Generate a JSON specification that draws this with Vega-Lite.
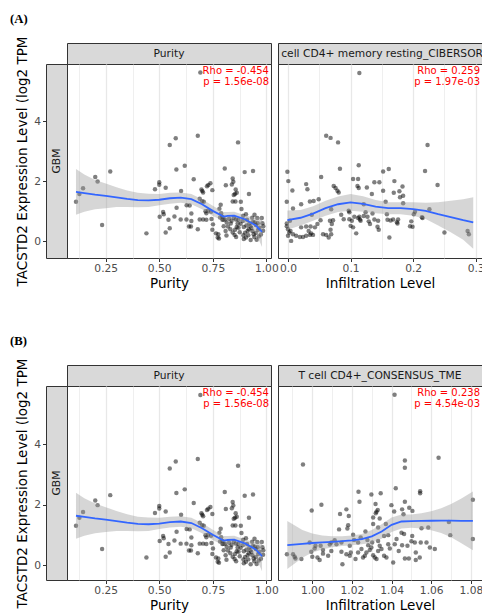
{
"$schema": "https://vega.github.io/schema/vega-lite/v6.json",
"padding": {"left": 10, "top": 12, "right": 0, "bottom": 0},
"config": {
  "font": "DejaVu Sans",
  "view": {"stroke": "#333333", "strokeWidth": 1},
  "axis": {"labelFont": "DejaVu Sans", "labelFontSize": 10.7, "labelColor": "#4d4d4d", "titleFont": "DejaVu Sans", "titleFontSize": 13.5, "titleColor": "#000000", "titleFontWeight": "normal", "tickColor": "#333333", "tickSize": 3.5, "tickWidth": 1, "domain": false, "gridColor": "#e8e8e8", "labelFlush": false, "labelOverlap": false, "labelBound": false},
  "title": {"font": "Liberation Serif", "fontWeight": "bold", "fontSize": 12.7, "color": "#000000"}
},
"datasets": {
  "pur": [
{"x":0.111,"y":1.31},{"x":0.127,"y":1.57},{"x":0.144,"y":1.76},{"x":0.201,"y":2.14},{"x":0.212,"y":1.99},{"x":0.233,"y":0.54},{"x":0.271,"y":2.32},{"x":0.44,"y":0.26},
{"x":0.48,"y":1.73},{"x":0.5,"y":1.96},{"x":0.5,"y":1.88},{"x":0.53,"y":1.78},{"x":0.549,"y":3.2},{"x":0.577,"y":3.43},{"x":0.58,"y":2.39},{"x":0.619,"y":2.51},{"x":0.68,"y":3.51},{"x":0.692,"y":5.62},{"x":0.868,"y":3.29},{"x":0.602,"y":1.67},{"x":0.661,"y":2.06},
{"x":0.518,"y":0.97},{"x":0.521,"y":0.9},{"x":0.502,"y":0.81},{"x":0.571,"y":0.82},{"x":0.543,"y":0.71},{"x":0.6,"y":0.72},{"x":0.627,"y":0.72},{"x":0.65,"y":0.92},{"x":0.65,"y":0.67},{"x":0.549,"y":0.43},{"x":0.53,"y":0.29},{"x":0.639,"y":0.49},{"x":0.648,"y":0.49},{"x":0.68,"y":0.4},{"x":0.581,"y":1.11},{"x":0.628,"y":1.2},{"x":0.642,"y":1.19},
{"x":0.689,"y":1.41},{"x":0.7,"y":1.33},{"x":0.697,"y":1.72},{"x":0.701,"y":1.67},{"x":0.729,"y":1.87},{"x":0.739,"y":1.93},{"x":0.748,"y":1.7},{"x":0.723,"y":1.83},{"x":0.705,"y":1.62},{"x":0.689,"y":0.72},{"x":0.705,"y":0.72},{"x":0.72,"y":0.93},{"x":0.728,"y":1.01},{"x":0.716,"y":1.0},{"x":0.72,"y":0.71},{"x":0.751,"y":0.56},{"x":0.748,"y":0.38},{"x":0.765,"y":0.26},{"x":0.773,"y":0.12},{"x":0.742,"y":0.98},{"x":0.744,"y":0.74},{"x":0.708,"y":1.31},
{"x":0.781,"y":1.08},{"x":0.787,"y":1.21},{"x":0.789,"y":0.93},{"x":0.784,"y":0.79},{"x":0.795,"y":0.71},{"x":0.8,"y":0.72},{"x":0.801,"y":0.5},{"x":0.81,"y":0.34},{"x":0.821,"y":0.49},{"x":0.814,"y":0.19},{"x":0.832,"y":0.4},{"x":0.834,"y":0.59},{"x":0.843,"y":0.29},{"x":0.852,"y":0.21},{"x":0.854,"y":0.38},{"x":0.862,"y":0.47},{"x":0.866,"y":0.59},{"x":0.87,"y":0.71},{"x":0.806,"y":2.42},{"x":0.811,"y":1.86},{"x":0.839,"y":1.89},{"x":0.846,"y":1.98},{"x":0.843,"y":2.09},{"x":0.857,"y":1.72},{"x":0.862,"y":1.61},{"x":0.854,"y":1.57},{"x":0.848,"y":1.54},{"x":0.843,"y":1.32},{"x":0.856,"y":1.32},{"x":0.881,"y":1.31},{"x":0.776,"y":0.23},{"x":0.779,"y":0.09},{"x":0.807,"y":0.72},{"x":0.795,"y":0.81},{"x":0.815,"y":0.62},{"x":0.826,"y":0.75},{"x":0.838,"y":0.68},{"x":0.848,"y":0.78},{"x":0.858,"y":0.72},
{"x":0.876,"y":0.3},{"x":0.89,"y":0.67},{"x":0.895,"y":0.47},{"x":0.893,"y":0.2},{"x":0.884,"y":1.07},{"x":0.901,"y":0.28},{"x":0.907,"y":0.52},{"x":0.913,"y":0.34},{"x":0.916,"y":0.2},{"x":0.921,"y":0.59},{"x":0.927,"y":0.04},{"x":0.934,"y":0.78},{"x":0.938,"y":0.64},{"x":0.935,"y":0.34},{"x":0.944,"y":0.14},{"x":0.951,"y":0.27},{"x":0.958,"y":0.77},{"x":0.962,"y":0.38},{"x":0.965,"y":0.16},{"x":0.979,"y":0.77},{"x":0.982,"y":0.6},{"x":0.986,"y":0.5},{"x":0.951,"y":0.54},{"x":0.91,"y":0.71},{"x":0.926,"y":0.5},{"x":0.941,"y":0.23},{"x":0.918,"y":0.4},{"x":0.895,"y":0.07},{"x":0.859,"y":0.14},{"x":0.899,"y":2.3},{"x":0.938,"y":2.34},{"x":0.919,"y":1.57},{"x":0.87,"y":0.45},{"x":0.88,"y":0.58},{"x":0.905,"y":0.12},{"x":0.93,"y":0.44},{"x":0.946,"y":0.62},{"x":0.955,"y":0.05},{"x":0.968,"y":0.45},{"x":0.975,"y":0.22},{"x":0.985,"y":0.35},{"x":0.96,"y":0.6},{"x":0.892,"y":0.85},{"x":0.945,"y":0.88},{"x":0.905,"y":0.9}
  ],
  "mem": [
{"x":0.114,"y":5.6},{"x":0.061,"y":3.51},{"x":0.068,"y":3.44},{"x":0.08,"y":3.29},{"x":0.223,"y":3.2},{"x":-0.001,"y":2.31},{"x":0.0005,"y":2.0},{"x":0.007,"y":1.69},{"x":-0.002,"y":1.31},{"x":0.008,"y":1.09},{"x":-0.002,"y":0.5},{"x":0.0,"y":0.4},{"x":0.002,"y":0.29},{"x":-0.002,"y":0.59},{"x":0.003,"y":0.68},{"x":0.005,"y":0.01},{"x":0.008,"y":0.23},{"x":0.013,"y":0.18},{"x":0.019,"y":0.14},{"x":0.024,"y":0.14},{"x":0.029,"y":0.18},{"x":0.035,"y":0.21},{"x":0.037,"y":0.26},{"x":0.04,"y":0.21},{"x":0.033,"y":0.34},{"x":0.036,"y":0.49},{"x":0.043,"y":0.46},{"x":0.029,"y":0.49},{"x":0.021,"y":0.46},{"x":0.021,"y":1.23},{"x":0.029,"y":1.9},{"x":0.031,"y":1.73},{"x":0.035,"y":1.32},{"x":0.041,"y":1.34},{"x":0.049,"y":1.4},{"x":0.038,"y":0.88},{"x":0.053,"y":2.14},{"x":0.052,"y":0.7},{"x":0.056,"y":0.23},{"x":0.061,"y":0.21},{"x":0.065,"y":0.12},{"x":0.069,"y":0.23},{"x":0.068,"y":0.38},{"x":0.07,"y":0.57},{"x":0.072,"y":0.7},{"x":0.067,"y":0.68},{"x":0.047,"y":0.57},{"x":0.069,"y":1.06},{"x":0.073,"y":1.84},{"x":0.076,"y":1.77},{"x":0.079,"y":1.68},{"x":0.081,"y":1.62},{"x":0.083,"y":2.41},{"x":0.085,"y":0.88},{"x":0.089,"y":0.73},{"x":0.097,"y":1.01},{"x":0.098,"y":0.96},{"x":0.098,"y":0.73},{"x":0.1,"y":0.51},{"x":0.102,"y":0.68},{"x":0.104,"y":0.46},{"x":0.104,"y":2.07},{"x":0.109,"y":0.26},{"x":0.113,"y":2.53},{"x":0.112,"y":2.07},{"x":0.111,"y":1.84},{"x":0.113,"y":1.77},{"x":0.112,"y":0.77},{"x":0.114,"y":0.81},{"x":0.115,"y":0.72},{"x":0.116,"y":0.68},{"x":0.121,"y":1.23},{"x":0.124,"y":0.96},{"x":0.126,"y":1.79},{"x":0.127,"y":0.81},{"x":0.129,"y":0.66},{"x":0.131,"y":0.57},{"x":0.135,"y":0.92},{"x":0.134,"y":1.57},{"x":0.138,"y":1.96},{"x":0.146,"y":1.96},{"x":0.143,"y":0.48},{"x":0.145,"y":0.38},{"x":0.152,"y":2.32},{"x":0.161,"y":2.4},{"x":0.152,"y":1.68},{"x":0.156,"y":1.31},{"x":0.158,"y":0.9},{"x":0.159,"y":0.71},{"x":0.162,"y":0.12},{"x":0.164,"y":0.69},{"x":0.168,"y":0.72},{"x":0.169,"y":1.61},{"x":0.17,"y":2.0},{"x":0.174,"y":0.63},{"x":0.175,"y":0.59},{"x":0.178,"y":1.66},{"x":0.179,"y":1.46},{"x":0.183,"y":1.82},{"x":0.184,"y":1.51},{"x":0.184,"y":1.26},{"x":0.195,"y":0.5},{"x":0.197,"y":0.66},{"x":0.199,"y":0.48},{"x":0.201,"y":0.9},{"x":0.203,"y":0.98},{"x":0.214,"y":0.8},{"x":0.215,"y":0.77},{"x":0.226,"y":1.06},{"x":0.219,"y":2.34},{"x":0.239,"y":1.87},{"x":0.25,"y":0.29},{"x":0.287,"y":0.34},{"x":0.289,"y":0.23},{"x":0.121,"y":0.84},{"x":0.106,"y":0.81},{"x":0.138,"y":0.72},{"x":0.144,"y":0.68},{"x":0.176,"y":0.72},{"x":0.0,"y":0.18},{"x":0.004,"y":0.34}
  ],
  "cons": [
{"x":1.0415,"y":5.63},{"x":0.9953,"y":3.33},{"x":1.0467,"y":3.46},{"x":1.0467,"y":3.22},{"x":1.0637,"y":3.55},{"x":1.081,"y":2.17},{"x":1.081,"y":0.87},{"x":1.0421,"y":2.55},{"x":1.0544,"y":2.45},{"x":1.0544,"y":2.38},{"x":1.0233,"y":2.43},{"x":1.0298,"y":2.34},{"x":1.0345,"y":2.38},{"x":1.0238,"y":2.1},{"x":1.0046,"y":2.0},{"x":0.9997,"y":1.81},{"x":1.014,"y":1.7},{"x":1.0172,"y":1.85},{"x":1.0184,"y":1.63},{"x":1.0181,"y":1.33},{"x":1.0177,"y":1.22},{"x":1.0319,"y":2.03},{"x":1.0324,"y":1.77},{"x":1.033,"y":1.83},{"x":1.032,"y":1.72},{"x":1.0399,"y":1.99},{"x":1.0413,"y":1.78},{"x":1.0467,"y":2.1},{"x":1.0453,"y":1.85},{"x":1.046,"y":1.69},{"x":1.0489,"y":1.9},{"x":1.0505,"y":1.8},{"x":1.0307,"y":1.58},{"x":1.034,"y":1.55},{"x":1.0307,"y":1.37},{"x":1.0371,"y":1.37},{"x":1.0332,"y":1.25},{"x":1.0135,"y":1.19},{"x":1.0206,"y":1.01},{"x":1.0211,"y":0.84},{"x":1.0268,"y":1.12},{"x":1.0362,"y":0.97},{"x":1.0383,"y":1.0},{"x":1.045,"y":1.08},{"x":1.0463,"y":1.04},{"x":1.0504,"y":0.97},{"x":1.0551,"y":1.23},{"x":1.0585,"y":1.25},{"x":1.0689,"y":1.43},{"x":1.0696,"y":1.0},{"x":0.9987,"y":0.76},{"x":1.0012,"y":0.56},{"x":1.0016,"y":0.65},{"x":1.0042,"y":0.65},{"x":1.0054,"y":0.51},{"x":1.0088,"y":0.69},{"x":1.0096,"y":0.48},{"x":1.0113,"y":0.83},{"x":1.0122,"y":0.7},{"x":1.0147,"y":0.76},{"x":0.9911,"y":0.29},{"x":0.9915,"y":0.23},{"x":0.9872,"y":0.37},{"x":0.9945,"y":0.21},{"x":0.9995,"y":0.45},{"x":1.0,"y":0.29},{"x":1.0026,"y":0.26},{"x":1.0037,"y":0.18},{"x":1.0054,"y":0.39},{"x":1.0147,"y":0.45},{"x":1.0172,"y":0.37},{"x":1.0189,"y":0.32},{"x":1.0194,"y":0.43},{"x":1.0218,"y":0.21},{"x":1.0231,"y":0.43},{"x":1.0248,"y":0.54},{"x":1.0256,"y":0.26},{"x":1.0265,"y":0.32},{"x":1.0273,"y":0.43},{"x":1.0282,"y":0.67},{"x":1.029,"y":0.51},{"x":1.0298,"y":0.59},{"x":1.0307,"y":0.34},{"x":1.0315,"y":0.26},{"x":1.0324,"y":0.21},{"x":1.0332,"y":0.48},{"x":1.034,"y":0.65},{"x":1.0349,"y":0.54},{"x":1.0362,"y":0.32},{"x":1.0374,"y":0.26},{"x":1.0383,"y":0.7},{"x":1.0391,"y":0.56},{"x":1.0408,"y":0.1},{"x":1.0152,"y":0.04},{"x":1.0416,"y":0.7},{"x":1.0425,"y":0.87},{"x":1.0436,"y":0.48},{"x":1.0453,"y":0.67},{"x":1.0467,"y":0.23},{"x":1.048,"y":0.65},{"x":1.0487,"y":0.23},{"x":1.05,"y":0.8},{"x":1.0517,"y":0.76},{"x":1.0522,"y":0.43},{"x":1.0522,"y":0.18},{"x":1.0542,"y":0.26},{"x":1.0547,"y":0.76},{"x":1.0576,"y":0.76},{"x":1.0593,"y":0.59},{"x":1.0618,"y":0.54},{"x":1.0231,"y":0.76},{"x":1.0244,"y":0.92},{"x":1.0278,"y":0.84},{"x":1.0302,"y":0.76},{"x":1.0332,"y":0.81},{"x":1.0096,"y":0.76},{"x":1.0189,"y":0.65},{"x":0.9903,"y":0.37},{"x":1.008,"y":0.32}
  ],
  "s_pur": [
{"x":0.111,"y":1.64,"lo":0.88,"hi":2.4},{"x":0.15,"y":1.6,"lo":0.98,"hi":2.22},{"x":0.2,"y":1.55,"lo":1.06,"hi":2.04},{"x":0.25,"y":1.51,"lo":1.1,"hi":1.92},{"x":0.3,"y":1.46,"lo":1.14,"hi":1.8},{"x":0.35,"y":1.41,"lo":1.14,"hi":1.69},{"x":0.4,"y":1.37,"lo":1.13,"hi":1.61},{"x":0.45,"y":1.36,"lo":1.14,"hi":1.58},{"x":0.5,"y":1.38,"lo":1.2,"hi":1.57},{"x":0.55,"y":1.43,"lo":1.25,"hi":1.61},{"x":0.6,"y":1.45,"lo":1.28,"hi":1.62},{"x":0.65,"y":1.4,"lo":1.23,"hi":1.57},{"x":0.7,"y":1.23,"lo":1.06,"hi":1.4},{"x":0.75,"y":1.01,"lo":0.84,"hi":1.18},{"x":0.8,"y":0.82,"lo":0.67,"hi":0.97},{"x":0.82,"y":0.84,"lo":0.71,"hi":0.97},{"x":0.85,"y":0.85,"lo":0.72,"hi":0.98},{"x":0.9,"y":0.73,"lo":0.6,"hi":0.86},{"x":0.95,"y":0.53,"lo":0.3,"hi":0.76},{"x":0.98,"y":0.31,"lo":-0.19,"hi":0.81}
  ],
  "s_mem": [
{"x":-0.001,"y":0.7,"lo":0.38,"hi":1.02},{"x":0.02,"y":0.78,"lo":0.52,"hi":1.04},{"x":0.04,"y":0.92,"lo":0.68,"hi":1.16},{"x":0.06,"y":1.1,"lo":0.85,"hi":1.35},{"x":0.08,"y":1.23,"lo":0.97,"hi":1.49},{"x":0.1,"y":1.29,"lo":1.01,"hi":1.57},{"x":0.12,"y":1.24,"lo":0.98,"hi":1.5},{"x":0.14,"y":1.15,"lo":0.93,"hi":1.37},{"x":0.16,"y":1.1,"lo":0.9,"hi":1.3},{"x":0.18,"y":1.1,"lo":0.9,"hi":1.3},{"x":0.2,"y":1.07,"lo":0.85,"hi":1.3},{"x":0.22,"y":1.01,"lo":0.74,"hi":1.28},{"x":0.24,"y":0.9,"lo":0.52,"hi":1.3},{"x":0.26,"y":0.8,"lo":0.3,"hi":1.35},{"x":0.28,"y":0.7,"lo":0.05,"hi":1.4},{"x":0.296,"y":0.63,"lo":-0.25,"hi":1.46}
  ],
  "s_cons": [
{"x":0.9874,"y":0.67,"lo":-0.12,"hi":1.47},{"x":0.995,"y":0.71,"lo":0.25,"hi":1.17},{"x":1.0,"y":0.74,"lo":0.43,"hi":1.05},{"x":1.005,"y":0.76,"lo":0.53,"hi":0.99},{"x":1.01,"y":0.78,"lo":0.6,"hi":0.96},{"x":1.015,"y":0.8,"lo":0.64,"hi":0.96},{"x":1.02,"y":0.83,"lo":0.67,"hi":0.99},{"x":1.025,"y":0.87,"lo":0.7,"hi":1.04},{"x":1.03,"y":0.96,"lo":0.75,"hi":1.17},{"x":1.035,"y":1.12,"lo":0.88,"hi":1.36},{"x":1.04,"y":1.34,"lo":1.1,"hi":1.58},{"x":1.045,"y":1.45,"lo":1.22,"hi":1.68},{"x":1.05,"y":1.46,"lo":1.24,"hi":1.68},{"x":1.055,"y":1.47,"lo":1.22,"hi":1.72},{"x":1.06,"y":1.475,"lo":1.16,"hi":1.79},{"x":1.065,"y":1.48,"lo":1.07,"hi":1.89},{"x":1.07,"y":1.48,"lo":0.93,"hi":2.03},{"x":1.075,"y":1.47,"lo":0.74,"hi":2.2},{"x":1.081,"y":1.47,"lo":0.5,"hi":2.44}
  ],
  "ann": [
{"panel":"A1","x":1.022,"y":5.9,"label":["Rho = -0.454","p = 1.56e-08"]},
{"panel":"A2","x":0.31,"y":5.9,"label":["Rho = 0.259","p = 1.97e-03"]},
{"panel":"B1","x":1.022,"y":5.92,"label":["Rho = -0.454","p = 1.56e-08"]},
{"panel":"B2","x":1.0856,"y":5.92,"label":["Rho = 0.238","p = 4.54e-03"]}
  ]
},
"spacing": 43,
"vconcat": [
 {
  "title": {"text": "(A)", "anchor": "start", "frame": "group", "dx": -36, "offset": 10},
  "columns": 4, "spacing": 0, "bounds": "flush",
  "concat": [
     {"width": 21, "height": 21, "view": {"stroke": null, "fill": null}, "data": {"values": [{"s": ""}]}, "mark": {"type": "text"}, "encoding": {"text": {"field": "s"}}},
     {"width": 204, "height": 21, "view": {"fill": "#d9d9d9", "stroke": "#333333"}, "data": {"values": [{"strip": "Purity"}]}, "mark": {"type": "text", "fontSize": 10.7, "color": "#1a1a1a", "clip": true}, "encoding": {"text": {"field": "strip"}}},
     {"width": 7, "height": 21, "view": {"stroke": null, "fill": null}, "data": {"values": [{"s": ""}]}, "mark": {"type": "text"}, "encoding": {"text": {"field": "s"}}},
     {"width": 204, "height": 21, "view": {"fill": "#d9d9d9", "stroke": "#333333"}, "data": {"values": [{"strip": "T cell CD4+ memory resting_CIBERSORT"}]}, "mark": {"type": "text", "fontSize": 10.7, "color": "#1a1a1a", "clip": true}, "encoding": {"text": {"field": "strip"}}},
     {"width": 21, "height": 194, "view": {"fill": "#d9d9d9", "stroke": "#333333"}, "data": {"values": [{"strip": "GBM", "y": 0}]},
      "layer": [
       {"mark": {"type": "point", "opacity": 0}, "encoding": {"y": {"field": "y", "type": "quantitative", "scale": {"domain": [-0.56, 5.9], "nice": false, "zero": false}, "axis": {"values": [0, 2, 4], "grid": false, "title": "TACSTD2 Expression Level (log2 TPM", "labelPadding": 2, "titlePadding": 4, "labelOverlap": false}}}},
       {"mark": {"type": "text", "angle": 270, "fontSize": 10.7, "color": "#1a1a1a"}, "encoding": {"text": {"field": "strip"}}}
      ]},
     {"width": 204, "height": 194,
        "resolve": {"axis": {"x": "independent"}},
        "layer": [
         {"data": {"name": "pur"}, "mark": {"type": "point", "filled": true, "size": 20, "color": "#000000", "opacity": 0.5},
          "encoding": {
           "x": {"field": "x", "type": "quantitative", "scale": {"domain": [0.069, 1.022], "nice": false, "zero": false},
                 "axis": {"orient": "bottom", "title": "Purity", "values": [0.25, 0.5, 0.75, 1.0], "format": ".2f", "grid": true, "gridWidth": 1.3, "labelPadding": 2, "titlePadding": 3}},
           "y": {"field": "y", "type": "quantitative", "scale": {"domain": [-0.56, 5.9], "nice": false, "zero": false},
                 "axis": {"title": null, "values": [0, 1, 2, 3, 4, 5], "labels": false, "ticks": false, "grid": true, "gridWidth": {"condition": {"test": "datum.value % 2 == 0", "value": 1.3}, "value": 0.7}}}}},
         {"data": {"name": "s_pur"}, "mark": {"type": "area", "color": "#999999", "opacity": 0.4}, "encoding": {"x": {"field": "x", "type": "quantitative", "axis": {"orient": "top", "values": [0.125, 0.375, 0.625, 0.875], "grid": true, "gridWidth": 0.7, "labels": false, "ticks": false, "title": null}}, "y": {"field": "lo", "type": "quantitative", "axis": null}, "y2": {"field": "hi"}}},
         {"data": {"name": "s_pur"}, "mark": {"type": "line", "color": "#3366FF", "strokeWidth": 1.8}, "encoding": {"x": {"field": "x", "type": "quantitative", "axis": null}, "y": {"field": "y", "type": "quantitative", "axis": null}}},
         {"data": {"name": "ann"}, "transform": [{"filter": "datum.panel == 'A1'"}], "mark": {"type": "text", "align": "right", "baseline": "top", "color": "#ff0000", "fontSize": 10, "lineHeight": 10.7, "dx": -2, "dy": 2}, "encoding": {"x": {"field": "x", "type": "quantitative", "axis": null}, "y": {"field": "y", "type": "quantitative", "axis": null}, "text": {"field": "label"}}}
        ]},
     {"width": 7, "height": 194, "view": {"stroke": null, "fill": null}, "data": {"values": [{"s": ""}]}, "mark": {"type": "text"}, "encoding": {"text": {"field": "s"}}},
     {"width": 204, "height": 194,
        "resolve": {"axis": {"x": "independent"}},
        "layer": [
         {"data": {"name": "mem"}, "mark": {"type": "point", "filled": true, "size": 20, "color": "#000000", "opacity": 0.5},
          "encoding": {
           "x": {"field": "x", "type": "quantitative", "scale": {"domain": [-0.016, 0.31], "nice": false, "zero": false},
                 "axis": {"orient": "bottom", "title": "Infiltration Level", "values": [0, 0.1, 0.2, 0.3], "format": ".1f", "grid": true, "gridWidth": 1.3, "labelPadding": 2, "titlePadding": 3}},
           "y": {"field": "y", "type": "quantitative", "scale": {"domain": [-0.56, 5.9], "nice": false, "zero": false},
                 "axis": {"title": null, "values": [0, 1, 2, 3, 4, 5], "labels": false, "ticks": false, "grid": true, "gridWidth": {"condition": {"test": "datum.value % 2 == 0", "value": 1.3}, "value": 0.7}}}}},
         {"data": {"name": "s_mem"}, "mark": {"type": "area", "color": "#999999", "opacity": 0.4}, "encoding": {"x": {"field": "x", "type": "quantitative", "axis": {"orient": "top", "values": [0.05, 0.15, 0.25], "grid": true, "gridWidth": 0.7, "labels": false, "ticks": false, "title": null}}, "y": {"field": "lo", "type": "quantitative", "axis": null}, "y2": {"field": "hi"}}},
         {"data": {"name": "s_mem"}, "mark": {"type": "line", "color": "#3366FF", "strokeWidth": 1.8}, "encoding": {"x": {"field": "x", "type": "quantitative", "axis": null}, "y": {"field": "y", "type": "quantitative", "axis": null}}},
         {"data": {"name": "ann"}, "transform": [{"filter": "datum.panel == 'A2'"}], "mark": {"type": "text", "align": "right", "baseline": "top", "color": "#ff0000", "fontSize": 10, "lineHeight": 10.7, "dx": -2, "dy": 2}, "encoding": {"x": {"field": "x", "type": "quantitative", "axis": null}, "y": {"field": "y", "type": "quantitative", "axis": null}, "text": {"field": "label"}}}
        ]}
  ]
 },
 {
  "title": {"text": "(B)", "anchor": "start", "frame": "group", "dx": -36, "offset": 10},
  "columns": 4, "spacing": 0, "bounds": "flush",
  "concat": [
     {"width": 21, "height": 21, "view": {"stroke": null, "fill": null}, "data": {"values": [{"s": ""}]}, "mark": {"type": "text"}, "encoding": {"text": {"field": "s"}}},
     {"width": 204, "height": 21, "view": {"fill": "#d9d9d9", "stroke": "#333333"}, "data": {"values": [{"strip": "Purity"}]}, "mark": {"type": "text", "fontSize": 10.7, "color": "#1a1a1a", "clip": true}, "encoding": {"text": {"field": "strip"}}},
     {"width": 7, "height": 21, "view": {"stroke": null, "fill": null}, "data": {"values": [{"s": ""}]}, "mark": {"type": "text"}, "encoding": {"text": {"field": "s"}}},
     {"width": 204, "height": 21, "view": {"fill": "#d9d9d9", "stroke": "#333333"}, "data": {"values": [{"strip": "T cell CD4+_CONSENSUS_TME"}]}, "mark": {"type": "text", "fontSize": 10.7, "color": "#1a1a1a", "clip": true}, "encoding": {"text": {"field": "strip"}}},
     {"width": 21, "height": 194, "view": {"fill": "#d9d9d9", "stroke": "#333333"}, "data": {"values": [{"strip": "GBM", "y": 0}]},
      "layer": [
       {"mark": {"type": "point", "opacity": 0}, "encoding": {"y": {"field": "y", "type": "quantitative", "scale": {"domain": [-0.48, 5.92], "nice": false, "zero": false}, "axis": {"values": [0, 2, 4], "grid": false, "title": "TACSTD2 Expression Level (log2 TPM", "labelPadding": 2, "titlePadding": 4, "labelOverlap": false}}}},
       {"mark": {"type": "text", "angle": 270, "fontSize": 10.7, "color": "#1a1a1a"}, "encoding": {"text": {"field": "strip"}}}
      ]},
     {"width": 204, "height": 194,
        "resolve": {"axis": {"x": "independent"}},
        "layer": [
         {"data": {"name": "pur"}, "mark": {"type": "point", "filled": true, "size": 20, "color": "#000000", "opacity": 0.5},
          "encoding": {
           "x": {"field": "x", "type": "quantitative", "scale": {"domain": [0.069, 1.022], "nice": false, "zero": false},
                 "axis": {"orient": "bottom", "title": "Purity", "values": [0.25, 0.5, 0.75, 1.0], "format": ".2f", "grid": true, "gridWidth": 1.3, "labelPadding": 2, "titlePadding": 3}},
           "y": {"field": "y", "type": "quantitative", "scale": {"domain": [-0.48, 5.92], "nice": false, "zero": false},
                 "axis": {"title": null, "values": [0, 1, 2, 3, 4, 5], "labels": false, "ticks": false, "grid": true, "gridWidth": {"condition": {"test": "datum.value % 2 == 0", "value": 1.3}, "value": 0.7}}}}},
         {"data": {"name": "s_pur"}, "mark": {"type": "area", "color": "#999999", "opacity": 0.4}, "encoding": {"x": {"field": "x", "type": "quantitative", "axis": {"orient": "top", "values": [0.125, 0.375, 0.625, 0.875], "grid": true, "gridWidth": 0.7, "labels": false, "ticks": false, "title": null}}, "y": {"field": "lo", "type": "quantitative", "axis": null}, "y2": {"field": "hi"}}},
         {"data": {"name": "s_pur"}, "mark": {"type": "line", "color": "#3366FF", "strokeWidth": 1.8}, "encoding": {"x": {"field": "x", "type": "quantitative", "axis": null}, "y": {"field": "y", "type": "quantitative", "axis": null}}},
         {"data": {"name": "ann"}, "transform": [{"filter": "datum.panel == 'B1'"}], "mark": {"type": "text", "align": "right", "baseline": "top", "color": "#ff0000", "fontSize": 10, "lineHeight": 10.7, "dx": -2, "dy": 2}, "encoding": {"x": {"field": "x", "type": "quantitative", "axis": null}, "y": {"field": "y", "type": "quantitative", "axis": null}, "text": {"field": "label"}}}
        ]},
     {"width": 7, "height": 194, "view": {"stroke": null, "fill": null}, "data": {"values": [{"s": ""}]}, "mark": {"type": "text"}, "encoding": {"text": {"field": "s"}}},
     {"width": 204, "height": 194,
        "resolve": {"axis": {"x": "independent"}},
        "layer": [
         {"data": {"name": "cons"}, "mark": {"type": "point", "filled": true, "size": 20, "color": "#000000", "opacity": 0.5},
          "encoding": {
           "x": {"field": "x", "type": "quantitative", "scale": {"domain": [0.9827, 1.0856], "nice": false, "zero": false},
                 "axis": {"orient": "bottom", "title": "Infiltration Level", "values": [1.0, 1.02, 1.04, 1.06, 1.08], "format": ".2f", "grid": true, "gridWidth": 1.3, "labelPadding": 2, "titlePadding": 3}},
           "y": {"field": "y", "type": "quantitative", "scale": {"domain": [-0.48, 5.92], "nice": false, "zero": false},
                 "axis": {"title": null, "values": [0, 1, 2, 3, 4, 5], "labels": false, "ticks": false, "grid": true, "gridWidth": {"condition": {"test": "datum.value % 2 == 0", "value": 1.3}, "value": 0.7}}}}},
         {"data": {"name": "s_cons"}, "mark": {"type": "area", "color": "#999999", "opacity": 0.4}, "encoding": {"x": {"field": "x", "type": "quantitative", "axis": {"orient": "top", "values": [0.99, 1.01, 1.03, 1.05, 1.07], "grid": true, "gridWidth": 0.7, "labels": false, "ticks": false, "title": null}}, "y": {"field": "lo", "type": "quantitative", "axis": null}, "y2": {"field": "hi"}}},
         {"data": {"name": "s_cons"}, "mark": {"type": "line", "color": "#3366FF", "strokeWidth": 1.8}, "encoding": {"x": {"field": "x", "type": "quantitative", "axis": null}, "y": {"field": "y", "type": "quantitative", "axis": null}}},
         {"data": {"name": "ann"}, "transform": [{"filter": "datum.panel == 'B2'"}], "mark": {"type": "text", "align": "right", "baseline": "top", "color": "#ff0000", "fontSize": 10, "lineHeight": 10.7, "dx": -2, "dy": 2}, "encoding": {"x": {"field": "x", "type": "quantitative", "axis": null}, "y": {"field": "y", "type": "quantitative", "axis": null}, "text": {"field": "label"}}}
        ]}
  ]
 }
]
}
